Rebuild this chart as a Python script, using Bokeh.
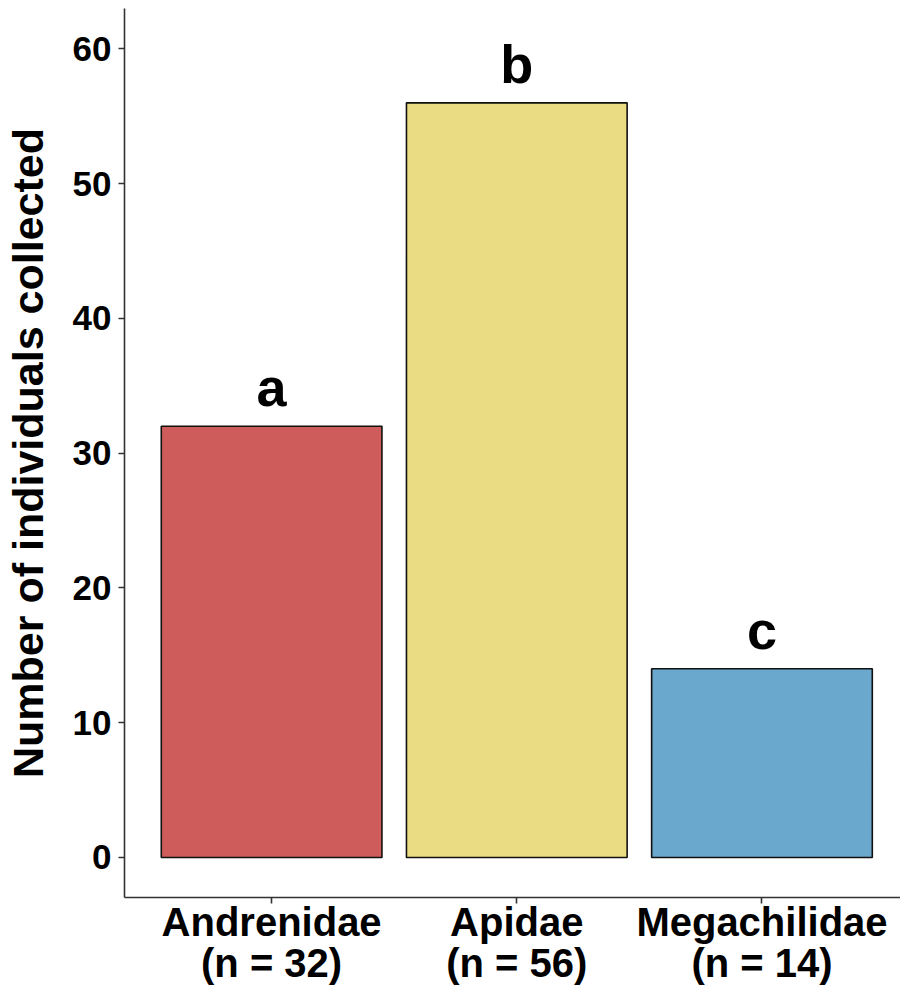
from bokeh.plotting import figure
from bokeh.models import ColumnDataSource, Range1d, FixedTicker, LabelSet
from bokeh.core.properties import value
from bokeh.embed import file_html
from bokeh.resources import INLINE

categories = ["Andrenidae", "Apidae", "Megachilidae"]
counts = [32, 56, 14]
letters = ["a", "b", "c"]
bar_colors = ["#CD5C5A", "#EADC82", "#6BA8CD"]
y_ticks = [0, 10, 20, 30, 40, 50, 60]

xpos = [i + 1 for i in range(len(categories))]
tick_labels = {x: f"{c}\n(n = {n})" for x, c, n in zip(xpos, categories, counts)}

src = ColumnDataSource(dict(x=xpos, top=counts, color=bar_colors, letter=letters))

FONT = "Liberation Sans"

p = figure(width=900, height=990, output_backend="svg", toolbar_location=None,
           x_range=Range1d(0.4, 3.565), y_range=Range1d(-2.97, 63.0),
           min_border_left=123, min_border_right=0, min_border_top=8,
           min_border_bottom=93)
p.outline_line_color = None
p.xgrid.visible = False
p.ygrid.visible = False
p.background_fill_color = "white"
p.border_fill_color = "white"

p.vbar(x="x", top="top", bottom=0, width=0.9, fill_color="color",
       line_color="#111111", line_width=1.6, source=src)

labels = LabelSet(x="x", y="top", text="letter", source=src, text_align="center",
                  text_baseline="alphabetic", y_offset=20, text_font=value(FONT),
                  text_font_style="bold", text_font_size="54px", text_color="black")
p.add_layout(labels)

for ax in (p.xaxis[0], p.yaxis[0]):
    ax.axis_line_color = "#333333"
    ax.axis_line_width = 1.6
    ax.major_tick_line_color = "#333333"
    ax.major_tick_line_width = 1.6
    ax.major_tick_in = 0
    ax.major_tick_out = 6
    ax.minor_tick_line_color = None
    ax.major_label_text_font = FONT
    ax.major_label_text_font_style = "bold"
    ax.major_label_text_color = "black"

p.yaxis.ticker = FixedTicker(ticks=y_ticks)
p.yaxis.major_label_text_font_size = "35px"
p.yaxis.major_label_standoff = 7
p.yaxis.axis_label = "Number of individuals collected"
p.yaxis.axis_label_text_font = FONT
p.yaxis.axis_label_text_font_style = "bold"
p.yaxis.axis_label_text_font_size = "43px"
p.yaxis.axis_label_text_color = "black"
p.yaxis.axis_label_standoff = 18

p.xaxis.ticker = FixedTicker(ticks=xpos)
p.xaxis.major_label_overrides = tick_labels
p.xaxis.major_label_text_font_size = "40px"
p.xaxis.major_label_text_line_height = 0.95
p.xaxis.major_label_standoff = -4

open("out.html", "w").write(file_html(p, INLINE))
